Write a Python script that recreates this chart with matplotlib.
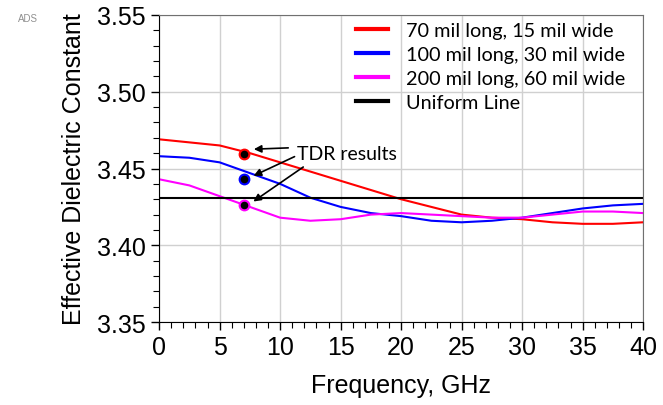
import numpy as np
import matplotlib
matplotlib.use("Agg")
import matplotlib.pyplot as plt

freq = [0, 2.5, 5, 7.5, 10, 12.5, 15, 17.5, 20, 22.5, 25, 27.5, 30, 32.5, 35, 37.5, 40]
er_70 = [3.469, 3.467, 3.465, 3.460, 3.454, 3.448, 3.442, 3.436, 3.430, 3.425,
         3.420, 3.418, 3.417, 3.415, 3.414, 3.414, 3.415]
er_100 = [3.458, 3.457, 3.454, 3.447, 3.440, 3.431, 3.425, 3.421, 3.419, 3.416,
          3.415, 3.416, 3.418, 3.421, 3.424, 3.426, 3.427]
er_200 = [3.443, 3.439, 3.432, 3.425, 3.418, 3.416, 3.417, 3.420, 3.421, 3.420,
          3.419, 3.418, 3.418, 3.420, 3.422, 3.422, 3.421]
er_uniform = [3.431] * len(freq)

tdr_freq = 7
tdr_vals = [3.4595, 3.443, 3.4265]
tdr_colors = ["red", "blue", "magenta"]

labels = ["70 mil long, 15 mil wide", "100 mil long, 30 mil wide",
          "200 mil long, 60 mil wide", "Uniform Line"]

fig = plt.figure(figsize=(6.63, 4.06), dpi=100)
ax = fig.add_axes([0.24, 0.204, 0.73, 0.757])

ax.plot(freq, er_70, color="red", lw=1.5, label=labels[0])
ax.plot(freq, er_100, color="blue", lw=1.5, label=labels[1])
ax.plot(freq, er_200, color="magenta", lw=1.5, label=labels[2])
ax.plot(freq, er_uniform, color="black", lw=1.5, label=labels[3])

for v, c in zip(tdr_vals, tdr_colors):
    ax.plot(tdr_freq, v, "o", ms=7, mfc="black", mec=c, mew=1.5, zorder=5)

ax.text(11.4, 3.4595, "TDR results", family="Lato", fontsize=14, va="center", ha="left")
for tail, head in [((10.9, 3.4635), (7.6, 3.4625)),
                   ((11.4, 3.4585), (7.6, 3.4445)),
                   ((12.1, 3.4520), (7.6, 3.4275))]:
    ax.annotate("", xy=head, xytext=tail,
                arrowprops=dict(arrowstyle="-|>", color="black", lw=1.2, mutation_scale=11))

ax.set_xlim(0, 40)
ax.set_ylim(3.35, 3.55)
ax.set_xticks(np.arange(0, 41, 5))
ax.set_xticks(np.arange(0, 41, 1), minor=True)
ax.set_yticks(np.arange(3.35, 3.5501, 0.05))
ax.set_yticks(np.arange(3.35, 3.5501, 0.01), minor=True)
ax.set_yticklabels(["%.2f" % v for v in np.arange(3.35, 3.5501, 0.05)])
ax.grid(True, which="major", color="#d0d0d0", lw=1)
ax.set_axisbelow(True)

for lab in ax.get_xticklabels() + ax.get_yticklabels():
    lab.set_family("Liberation Sans")
    lab.set_fontsize(18)
ax.tick_params(which="major", length=6, width=1)
ax.tick_params(which="minor", length=4, width=0.8)

for s in ["top", "right"]:
    ax.spines[s].set_color("#707070")
ax.spines["left"].set_color("black")
ax.spines["bottom"].set_color("black")

ax.set_xlabel("Frequency, GHz", family="Liberation Sans", fontsize=18, labelpad=10)
ax.set_ylabel("Effective Dielectric Constant", family="Liberation Sans", fontsize=18, labelpad=8)

leg = ax.legend(loc="upper right", frameon=False, prop={"family": "Lato", "size": 14.3},
                handlelength=1.6, handletextpad=0.9, labelspacing=0.36,
                bbox_to_anchor=(1.0, 1.035))
for h in leg.get_lines():
    h.set_linewidth(3)

fig.text(0.027, 0.945, "ADS", color="#909090", fontsize=7, family="Liberation Sans")

fig.savefig("out.png", dpi=100)
